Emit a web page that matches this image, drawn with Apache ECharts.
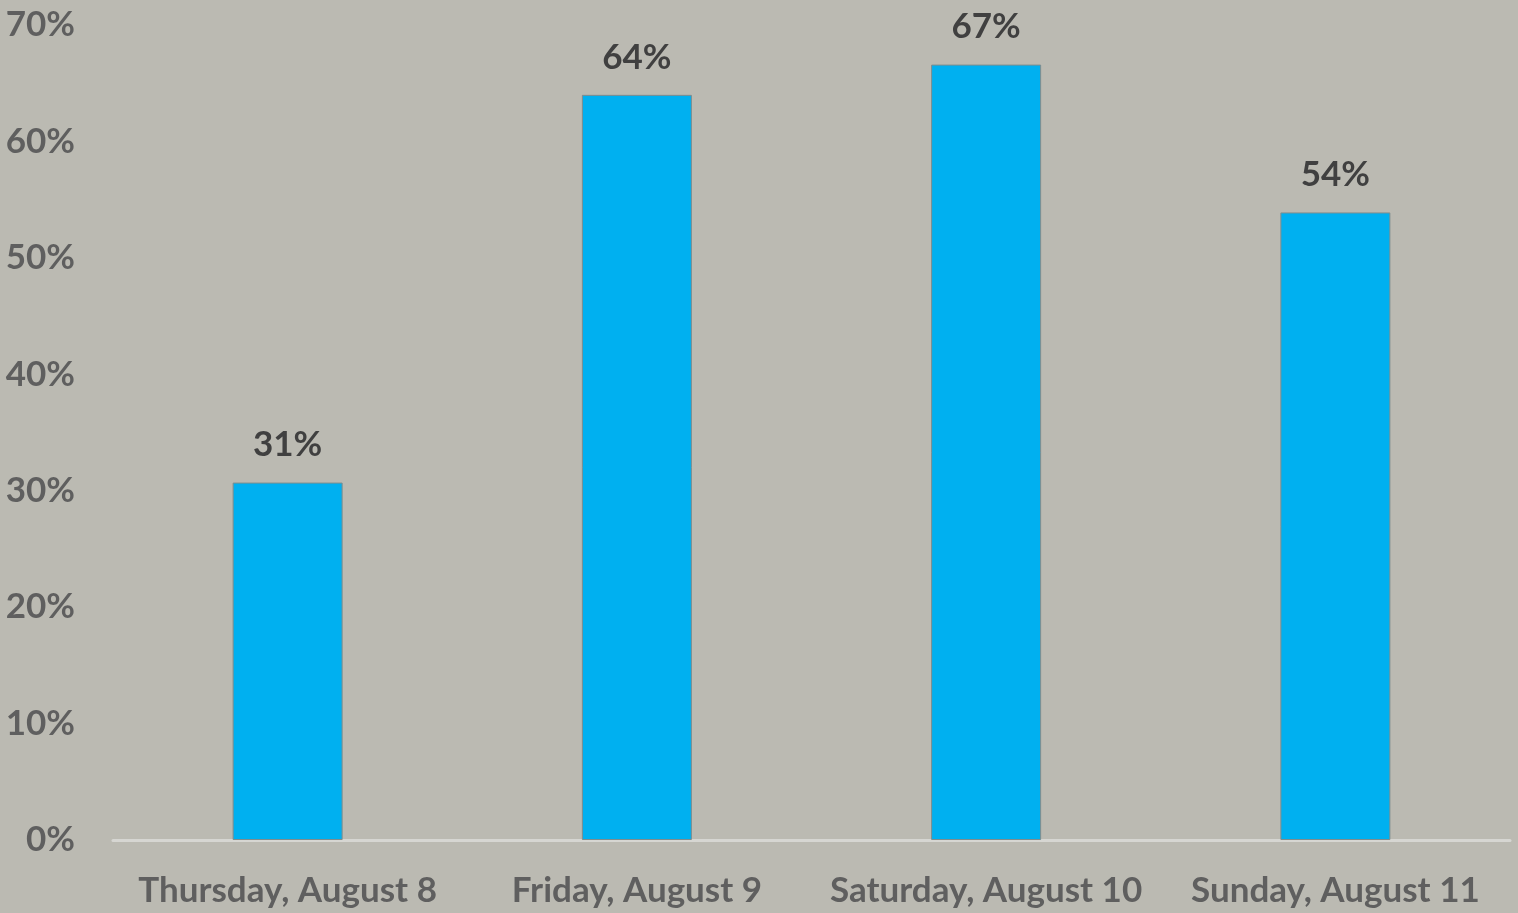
<!DOCTYPE html>
<html>
<head>
<meta charset="utf-8">
<script src="https://cdn.jsdelivr.net/npm/echarts@6/dist/echarts.min.js"></script>
<style>
html,body{margin:0;padding:0;background:#BBBAB2;}
#chart{width:1518px;height:913px;}
</style>
</head>
<body>
<div id="chart"></div>
<script>
const categories = ['Thursday, August 8', 'Friday, August 9', 'Saturday, August 10', 'Sunday, August 11'];
const values = [30.7, 64.0, 66.6, 53.9];
const yTicks = [0, 10, 20, 30, 40, 50, 60, 70];

const chart = echarts.init(document.getElementById('chart'));
chart.setOption({
  backgroundColor: '#BBBAB2',
  animation: false,
  grid: { left: 113, right: 8, top: 25, bottom: 73, containLabel: false },
  xAxis: {
    type: 'category',
    data: categories,
    axisLine: { show: true, lineStyle: { color: '#D6D6D2', width: 3 } },
    axisTick: { show: false },
    axisLabel: {
      interval: 0,
      color: '#5F5F5F', fontFamily: 'Lato', fontWeight: 'bold', fontSize: 35, margin: 33
    }
  },
  yAxis: {
    type: 'value',
    min: yTicks[0],
    max: yTicks[yTicks.length - 1],
    interval: 10,
    splitLine: { show: false },
    axisLine: { show: false },
    axisTick: { show: false },
    axisLabel: {
      color: '#5F5F5F', fontFamily: 'Lato', fontWeight: 'bold', fontSize: 35, margin: 38,
      formatter: v => v + '%'
    }
  },
  series: [{
    type: 'bar',
    data: values,
    barWidth: 110,
    itemStyle: { color: '#00B0F0', borderColor: '#7F8C8D', borderWidth: 1 },
    label: {
      show: true, position: 'top', distance: 20,
      color: '#404040', fontFamily: 'Lato', fontWeight: 'bold', fontSize: 35,
      formatter: p => Math.round(p.value) + '%'
    }
  }]
});
</script>
</body>
</html>
